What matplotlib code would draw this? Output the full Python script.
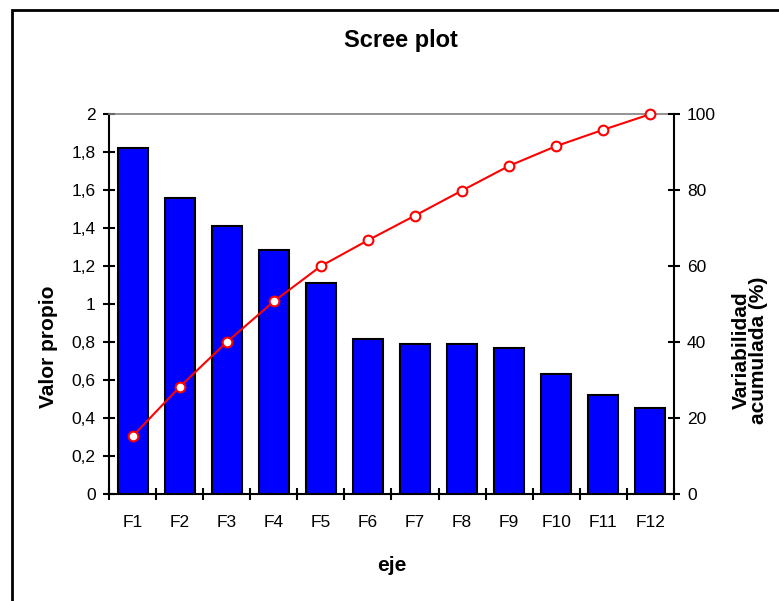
import matplotlib
matplotlib.use('Agg')
from matplotlib import pyplot as plt
from matplotlib.patches import Rectangle
import numpy as np

plt.rcParams['font.family'] = ['Liberation Sans', 'DejaVu Sans']

# data
factors = ['F1', 'F2', 'F3', 'F4', 'F5', 'F6', 'F7', 'F8', 'F9', 'F10', 'F11', 'F12']
eigenvalues = [1.823, 1.560, 1.412, 1.286, 1.109, 0.814, 0.791, 0.791, 0.770, 0.633, 0.519, 0.454]
cumulative = [15.2, 28.2, 40.0, 50.7, 60.0, 66.8, 73.3, 79.9, 86.4, 91.6, 95.9, 100.0]

left_ticks = [0, 0.2, 0.4, 0.6, 0.8, 1.0, 1.2, 1.4, 1.6, 1.8, 2.0]
left_labels = ['0', '0,2', '0,4', '0,6', '0,8', '1', '1,2', '1,4', '1,6', '1,8', '2']
right_ticks = [0, 20, 40, 60, 80, 100]


def main():
    fig = plt.figure(figsize=(7.79, 6.01), dpi=100)
    ax = fig.add_axes([0.140, 0.178, 0.725, 0.632])

    x = np.arange(len(factors))
    ax.bar(x, eigenvalues, width=0.64, color='#0000ff', edgecolor='black', linewidth=1.5, zorder=2)

    ax.set_xlim(-0.5, len(factors) - 0.5)
    ax.set_ylim(0, 2)
    ax.set_yticks(left_ticks)
    ax.set_yticklabels(left_labels)
    ax.set_xticks(x)
    ax.set_xticklabels(factors)
    ax.set_xticks(np.arange(len(factors) + 1) - 0.5, minor=True)
    ax.tick_params(axis='x', which='major', length=0, pad=15, labelsize=12.5)
    ax.tick_params(axis='x', which='minor', direction='inout', length=8, width=1.5)
    ax.tick_params(axis='y', direction='inout', length=9, width=1.5, labelsize=12.5, pad=5)

    for side in ['left', 'bottom']:
        ax.spines[side].set_linewidth(1.5)
    ax.spines['top'].set_color('#808080')
    ax.spines['top'].set_linewidth(1.2)
    ax.spines['right'].set_visible(False)

    ax.set_xlabel('eje', fontsize=15, fontweight='bold', labelpad=19)
    ax.set_ylabel('Valor propio', fontsize=15, fontweight='bold')
    ax.yaxis.set_label_coords(-0.090, 0.389)

    # title sits a bit right of the plot centre
    fig.text(401 / 779, 1 - 40 / 601, 'Scree plot', fontsize=17, fontweight='bold',
             ha='center', va='center')

    ax2 = ax.twinx()
    ax2.plot(x, cumulative, color='red', linewidth=1.5, marker='o', markersize=7,
             markerfacecolor='white', markeredgecolor='red', markeredgewidth=1.5,
             zorder=3, clip_on=False)
    ax2.set_ylim(0, 100)
    ax2.set_yticks(right_ticks)
    ax2.tick_params(axis='y', direction='inout', length=9, width=1.5, labelsize=12.5, pad=5)
    ax2.spines['right'].set_linewidth(1.5)
    ax2.spines['top'].set_visible(False)
    ax2.spines['left'].set_visible(False)
    ax2.spines['bottom'].set_visible(False)
    ax2.set_ylabel('Variabilidad\nacumulada (%)', fontsize=15, fontweight='bold',
                   linespacing=0.85)
    ax2.yaxis.set_label_coords(1.1027, 0.379)

    # outer frame of the chart area
    fig.patches.append(Rectangle((12 / 779, -0.05), 1.1, 1.05 - 10 / 601, transform=fig.transFigure,
                                 fill=False, edgecolor='black', linewidth=2))

    fig.savefig('out.png', dpi=100)


if __name__ == '__main__':
    main()
